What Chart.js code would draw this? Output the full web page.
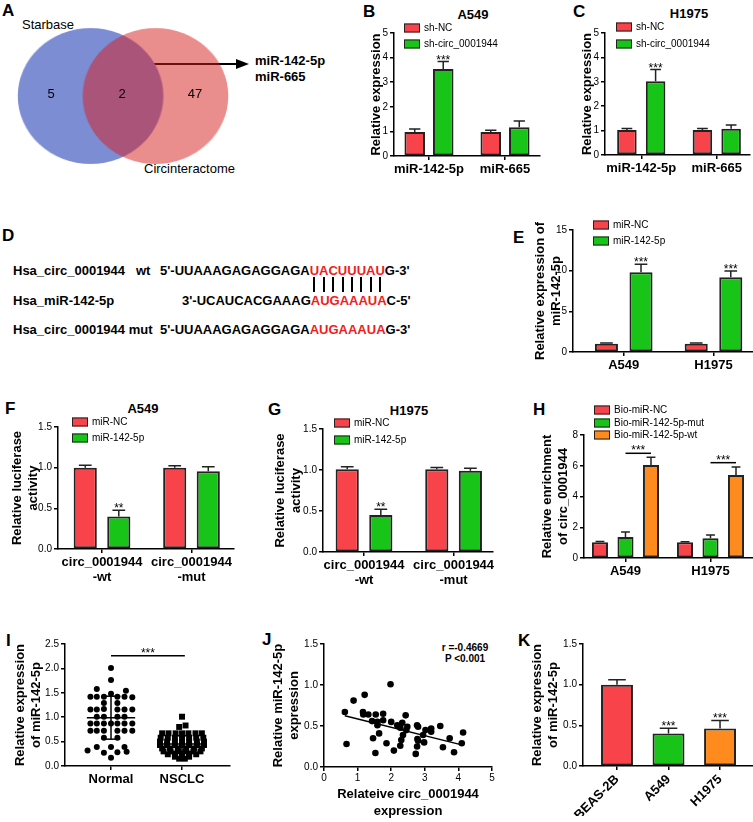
<!DOCTYPE html>
<html>
<head>
<meta charset="utf-8">
<script src="https://cdn.jsdelivr.net/npm/chart.js@4.4.1/dist/chart.umd.min.js"></script>
<style>
  body { margin: 0; background: #fff; }
  #fig { position: relative; width: 753px; height: 822px; overflow: hidden; background: #fff;
         font-family: "Liberation Sans", Arial, sans-serif; color: #000; }
  #fig canvas { position: absolute; left: 0; top: 0; }
  .t { position: absolute; white-space: nowrap; line-height: 1; transform: translateY(-50%); }
  .ct { transform: translate(-50%, -50%); }
  .lt { font-weight: bold; font-size: 17px; }
  .hd { font-weight: bold; font-size: 13px; }
  .lg { font-size: 10px; }
  .vn { font-size: 13px; }
  .sw { position: absolute; width: 16px; height: 9px; border: 1.5px solid #222; box-sizing: border-box; transform: translateY(-50%); }
  .red { color: #f31c1c; }
  .pair { position: absolute; top: 277px; height: 15px; width: 2px; background: #000; }
</style>
</head>
<body>
<div id="fig">
  <div class="t lt" style="left:2px;top:10px">A</div>
  <div class="t lt" style="left:363px;top:11px">B</div>
  <div class="t lt" style="left:573px;top:11px">C</div>
  <div class="t lt" style="left:2px;top:235px">D</div>
  <div class="t lt" style="left:513px;top:237px">E</div>
  <div class="t lt" style="left:5px;top:408px">F</div>
  <div class="t lt" style="left:268px;top:409px">G</div>
  <div class="t lt" style="left:533px;top:409px">H</div>
  <div class="t lt" style="left:6px;top:640px">I</div>
  <div class="t lt" style="left:262px;top:639px">J</div>
  <div class="t lt" style="left:518px;top:640px">K</div>

  <div class="t hd ct" style="left:473px;top:14px">A549</div>
  <div class="t hd ct" style="left:689px;top:13px">H1975</div>
  <div class="t hd ct" style="left:143px;top:408px">A549</div>
  <div class="t hd ct" style="left:409px;top:410px">H1975</div>

  <!-- A -->
  <div class="t vn" style="left:22px;top:24px">Starbase</div>
  <div class="t vn" style="left:144px;top:168px">Circinteractome</div>
  <div class="t hd" style="left:255px;top:60px">miR-142-5p</div>
  <div class="t hd" style="left:255px;top:76px">miR-665</div>
  <div style="position:absolute;left:126px;top:63px;width:112px;height:2px;background:#000"></div>
  <div style="position:absolute;left:236px;top:58.5px;width:0;height:0;border-left:13px solid #000;border-top:5.5px solid transparent;border-bottom:5.5px solid transparent"></div>

  <!-- D -->
  <div class="t hd" style="left:13px;top:270px">Hsa_circ_0001944</div>
  <div class="t hd" style="left:136px;top:270px">wt</div>
  <div class="t hd" style="left:160px;top:270px">5'-UUAAAGAGAGGAGA<span id="wtRed" class="red">UACUUUAU</span>G-3'</div>
  <div class="t hd" style="left:13px;top:300px">Hsa_miR-142-5p</div>
  <div class="t hd" style="left:182px;top:300px">3'-UCAUCACGAAAG<span class="red">AUGAAAUA</span>C-5'</div>
  <div class="t hd" style="left:13px;top:329px">Hsa_circ_0001944 mut</div>
  <div class="t hd" style="left:160px;top:329px">5'-UUAAAGAGAGGAGA<span class="red">AUGAAAUA</span>G-3'</div>

  <!-- J -->
  <div class="t hd ct" style="left:465px;top:648px;font-size:10px">r =-0.4669</div>
  <div class="t hd ct" style="left:465px;top:659px;font-size:10px">P &lt;0.001</div>
</div>

<script>
// ---- data ----
const vennSets = ['Starbase', 'Circinteractome'];
const vennCounts = [5, 2, 47];
const vennX = [-0.3, 0.3];

const bcCats = ['miR-142-5p', 'miR-665'];
const bShNC = [0.98, 0.98], bShNCErr = [0.12, 0.07];
const bShCirc = [3.54, 1.17], bShCircErr = [0.30, 0.25];
const cShNC = [1.02, 1.02], cShNCErr = [0.07, 0.07];
const cShCirc = [3.02, 1.08], cShCircErr = [0.48, 0.15];
const bcStars = ['***', ''];

const eCats = ['A549', 'H1975'];
const eNC = [1.02, 1.02], eNCErr = [0.1, 0.08];
const eMiR = [9.8, 9.2], eMiRErr = [1.0, 0.77];
const eStars = ['***', '***'];

const fgCats = [['circ_0001944', '-wt'], ['circ_0001944', '-mut']];
const fNC = [1.0, 1.0], fNCErr = [0.03, 0.025];
const fMiR = [0.40, 0.955], fMiRErr = [0.075, 0.055];
const gNC = [1.01, 1.01], gNCErr = [0.03, 0.02];
const gMiR = [0.45, 0.99], gMiRErr = [0.07, 0.03];
const fgStars = ['**', ''];

const hCats = ['A549', 'H1975'];
const hNC = [1.02, 1.02], hNCErr = [0.06, 0.04];
const hMut = [1.36, 1.28], hMutErr = [0.33, 0.21];
const hWt = [6.05, 5.4], hWtErr = [0.5, 0.52];
const hBracket = [6.81, 6.2];

const iCats = ['Normal', 'NSCLC'];
const iNormX = [1.00, 1.00, 0.80, 1.21, 1.00,
  0.71, 0.80, 0.90, 1.09, 1.19, 1.30,
  0.90, 1.09,
  0.71, 0.80, 0.90, 1.09, 1.19, 1.30,
  0.80, 0.90, 1.09, 1.19,
  0.71, 0.80, 0.90, 1.00, 1.09, 1.19, 1.30,
  0.71, 0.80, 0.90, 1.09, 1.19, 1.30,
  0.90, 1.09,
  0.80, 1.00, 1.19,
  0.67, 0.90, 1.09, 1.22,
  1.00];
const iNormY = [2.01, 1.76, 1.58, 1.54, 1.48,
  1.42, 1.42, 1.42, 1.42, 1.42, 1.41,
  1.29, 1.29,
  1.16, 1.16, 1.17, 1.16, 1.16, 1.16,
  1.01, 1.01, 1.01, 1.01,
  0.87, 0.87, 0.87, 0.87, 0.87, 0.87, 0.87,
  0.72, 0.72, 0.72, 0.72, 0.72, 0.72,
  0.58, 0.58,
  0.39, 0.39, 0.39,
  0.32, 0.27, 0.28, 0.29,
  0.17];
const iTumX = [2.00, 1.96, 2.05,
  1.72, 1.81, 1.91, 2.00, 2.09, 2.19, 2.28,
  1.70, 1.80, 1.90, 2.00, 2.10, 2.20, 2.30,
  1.69, 1.79, 1.90, 2.00, 2.10, 2.21, 2.31,
  1.69, 1.79, 1.90, 2.00, 2.10, 2.21, 2.31,
  1.72, 1.83, 1.94, 2.06, 2.17, 2.28,
  1.74, 1.84, 1.95, 2.05, 2.16, 2.26,
  1.80, 1.90, 2.00, 2.10, 2.20,
  1.90, 2.00, 2.10,
  1.96, 2.04];
const iTumY = [1.01, 0.80, 0.83,
  0.67, 0.67, 0.67, 0.67, 0.67, 0.67, 0.67,
  0.58, 0.58, 0.58, 0.58, 0.58, 0.58, 0.58,
  0.50, 0.50, 0.50, 0.50, 0.50, 0.50, 0.50,
  0.43, 0.43, 0.43, 0.43, 0.43, 0.43, 0.43,
  0.36, 0.36, 0.36, 0.36, 0.36, 0.36,
  0.30, 0.30, 0.30, 0.30, 0.30, 0.30,
  0.24, 0.24, 0.24, 0.24, 0.24,
  0.19, 0.19, 0.19,
  0.15, 0.15];
const iMean = [0.99, 0.45];
const iSdLow = [0.55, 0.30], iSdHigh = [1.43, 0.62];
const iSig = { x1: 1, x2: 2.04, y: 2.26, text: '***' };

const jX = [0.62, 0.67, 0.88, 1.21, 1.16, 1.17, 1.32, 1.46, 1.43, 1.54, 1.59, 1.59, 1.64, 1.53, 1.76,
  1.76, 1.86, 1.98, 2.00, 2.08, 2.18, 2.27, 2.33, 2.30, 2.27, 2.35, 2.43, 2.48, 2.45, 2.77,
  2.80, 2.78, 2.80, 2.77, 2.73, 2.95, 3.02, 2.98, 3.19, 3.19, 3.46, 3.54, 3.74, 3.87, 4.10, 4.14];
const jY = [0.67, 0.28, 0.81, 0.88, 0.67, 0.64, 0.64, 0.35, 0.56, 0.64, 0.55, 0.51, 0.41, 0.17, 0.65,
  0.57, 0.29, 1.01, 0.55, 0.20, 0.51, 0.48, 0.54, 0.33, 0.26, 0.39, 0.63, 0.49, 0.45, 0.51,
  0.49, 0.34, 0.32, 0.25, 0.16, 0.39, 0.45, 0.30, 0.47, 0.43, 0.50, 0.24, 0.35, 0.18, 0.29, 0.42];
const jFitX = [0.62, 4.1], jFitY = [0.625, 0.27];

const kCats = ['BEAS-2B', 'A549', 'H1975'];
const kVals = [1.0, 0.40, 0.46], kErr = [0.06, 0.065, 0.1];
const kStars = ['', '***', '***'];

// ---- setup ----
const FONT = '"Liberation Sans", Arial, sans-serif';
Chart.defaults.font.family = FONT;
Chart.defaults.color = '#000';
const RED = '#f8434a', GREEN = '#17c417', ORANGE = '#ff8b1e', EDGE = '#222';
const PW = 753, PH = 822, TLH = 13 * 1.3;
const FIG = document.getElementById('fig');

function newCanvas() {
  const c = document.createElement('canvas');
  c.width = PW; c.height = PH;
  FIG.appendChild(c);
  return c;
}
function txt(s, x, y, cls) {
  const d = document.createElement('div');
  d.className = 't ' + cls;
  d.style.left = x + 'px'; d.style.top = y + 'px';
  d.textContent = s;
  FIG.appendChild(d);
}
function legend(x, ys, labels, colors) {
  labels.forEach((lab, i) => {
    const sw = document.createElement('div');
    sw.className = 'sw';
    sw.style.left = x + 'px'; sw.style.top = ys[i] + 'px'; sw.style.background = colors[i];
    FIG.appendChild(sw);
    txt(lab, x + 20, ys[i], 'lg');
  });
}

const errorBars = {
  id: 'errorBars',
  afterDatasetsDraw(chart) {
    const ctx = chart.ctx, ys = chart.scales.y;
    chart.data.datasets.forEach((ds, i) => {
      if (!ds.errors) return;
      chart.getDatasetMeta(i).data.forEach((bar, j) => {
        const top = ys.getPixelForValue(ds.data[j].y + ds.errors[j]);
        const cap = bar.width * 0.55;
        ctx.save();
        ctx.strokeStyle = EDGE; ctx.lineWidth = 1.5;
        ctx.beginPath();
        ctx.moveTo(bar.x, bar.y); ctx.lineTo(bar.x, top);
        ctx.moveTo(bar.x - cap / 2, top); ctx.lineTo(bar.x + cap / 2, top);
        ctx.stroke();
        const s = ds.stars && ds.stars[j];
        if (s) {
          ctx.fillStyle = '#000'; ctx.font = '12px ' + FONT; ctx.textAlign = 'center';
          ctx.fillText(s, bar.x, top + 2);
        }
        ctx.restore();
      });
    });
  }
};
const sigLines = {
  id: 'sigLines',
  afterDatasetsDraw(chart, args, opts) {
    if (!opts.items) return;
    const ctx = chart.ctx, xs = chart.scales.x, ys = chart.scales.y;
    opts.items.forEach(it => {
      let x1, x2;
      if (it.bar != null) {
        x1 = chart.getDatasetMeta(it.from).data[it.bar].x;
        x2 = chart.getDatasetMeta(it.to).data[it.bar].x;
      } else {
        x1 = xs.getPixelForValue(it.x1); x2 = xs.getPixelForValue(it.x2);
      }
      const y = ys.getPixelForValue(it.y);
      ctx.save();
      ctx.strokeStyle = '#000'; ctx.lineWidth = 1.5;
      ctx.beginPath(); ctx.moveTo(x1, y); ctx.lineTo(x2, y); ctx.stroke();
      ctx.fillStyle = '#000'; ctx.font = '12px ' + FONT; ctx.textAlign = 'center';
      ctx.fillText(it.text, (x1 + x2) / 2, y + 1);
      ctx.restore();
    });
  }
};
Chart.register(errorBars, sigLines);

const tickGrid = () => ({ drawOnChartArea: false, drawTicks: true, tickLength: 4, color: '#000', lineWidth: 1.5, offset: false });
const axisBorder = () => ({ color: '#000', width: 1.5 });
const titleFont = { size: 13, weight: 'bold', lineHeight: 1.3 };

function yScale(a, min, max, step, dec, title, titleX) {
  const w = a.l - titleX + TLH / 2;
  return {
    min, max, bounds: 'data',
    ticks: { stepSize: step, padding: 2, font: { size: 10 }, callback: v => v.toFixed(dec) },
    grid: tickGrid(), border: axisBorder(),
    title: { display: true, text: title, padding: 0, font: titleFont },
    afterFit: s => { s.width = w; }
  };
}
function catScale(cats, min, max, h, rot) {
  return {
    type: 'linear', min, max, bounds: 'data', offset: false,
    afterBuildTicks: s => { s.ticks = cats.map((c, i) => ({ value: i + 1 })); },
    ticks: { autoSkip: false, padding: 2, minRotation: rot || 0, maxRotation: rot || 0,
             font: { size: 13, weight: 'bold', lineHeight: 1.15 }, callback: (v, i) => cats[i] },
    grid: tickGrid(), border: axisBorder(),
    afterFit: s => { s.height = h; }
  };
}
function baseOpts(a, titleX, xH, x, y, plug) {
  return {
    responsive: false, animation: false, devicePixelRatio: 1, events: [],
    layout: { autoPadding: false, padding: { left: titleX - TLH / 2, top: a.t, right: PW - a.r, bottom: PH - a.b - xH } },
    plugins: Object.assign({ legend: { display: false }, tooltip: { enabled: false } }, plug || {}),
    scales: { x, y }
  };
}
function barChart(p) {
  const datasets = p.series.map(s => ({
    data: s.values.map((v, i) => ({ x: i + 1, y: v })),
    backgroundColor: s.color, borderColor: EDGE, borderWidth: 2, borderSkipped: false,
    categoryPercentage: p.cp, barPercentage: p.bp, errors: s.errors, stars: s.stars
  }));
  new Chart(newCanvas(), {
    type: 'bar',
    data: { datasets },
    options: baseOpts(p.area, p.titleX, p.xH,
      catScale(p.cats, p.xmin, p.xmax, p.xH, p.rot),
      yScale(p.area, p.ymin, p.ymax, p.step, p.dec, p.title, p.titleX), p.plugins)
  });
}
function lineSet(pts) {
  return { data: pts, showLine: true, pointRadius: 0, borderColor: '#000', borderWidth: 1.5, fill: false };
}

// ---- A: venn ----
const vennCanvas = newCanvas();
vennCanvas.style.transformOrigin = '123px 96px';
vennCanvas.style.transform = 'scale(1.04, 0.97)';
const vennColors = ['rgb(125,141,212)', 'rgba(214,28,28,0.5)'];
new Chart(vennCanvas, {
  type: 'bubble',
  data: { datasets: vennSets.map((n, i) => ({
    label: n, data: [{ x: vennX[i], y: 0, r: 70 }], backgroundColor: vennColors[i],
    borderWidth: 0, order: 1 - i, clip: false })) },
  options: {
    responsive: false, animation: false, devicePixelRatio: 1, events: [],
    layout: { autoPadding: false, padding: { left: 19, top: 27, right: PW - 227, bottom: PH - 165 } },
    plugins: { legend: { display: false }, tooltip: { enabled: false } },
    scales: { x: { display: false, min: -1, max: 1 }, y: { display: false, min: -1, max: 1 } }
  }
});
[51, 122, 195].forEach((x, i) => txt(String(vennCounts[i]), x, 93, 'vn ct'));

// ---- B, C ----
barChart({ area: { l: 394, t: 33, r: 540, b: 156 }, xmin: 0.54, xmax: 2.46, cats: bcCats,
  ymin: 0, ymax: 5, step: 1, dec: 0, title: 'Relative expression', titleX: 376, xH: 30, cp: 0.75, bp: 0.72,
  series: [{ values: bShNC, errors: bShNCErr, color: RED },
           { values: bShCirc, errors: bShCircErr, color: GREEN, stars: bcStars }] });
legend(404, [28, 44], ['sh-NC', 'sh-circ_0001944'], [RED, GREEN]);

barChart({ area: { l: 605, t: 33, r: 750, b: 155 }, xmin: 0.52, xmax: 2.44, cats: bcCats,
  ymin: 0, ymax: 5, step: 1, dec: 0, title: 'Relative expression', titleX: 587, xH: 30, cp: 0.76, bp: 0.68,
  series: [{ values: cShNC, errors: cShNCErr, color: RED },
           { values: cShCirc, errors: cShCircErr, color: GREEN, stars: bcStars }] });
legend(616, [27, 44], ['sh-NC', 'sh-circ_0001944'], [RED, GREEN]);

// ---- E ----
barChart({ area: { l: 573, t: 230, r: 753, b: 352 }, xmin: 0.435, xmax: 2.44, cats: eCats,
  ymin: 0, ymax: 15, step: 5, dec: 0, title: ['Relative expression of', 'miR-142-5p'], titleX: 540, xH: 30,
  cp: 0.77, bp: 0.667,
  series: [{ values: eNC, errors: eNCErr, color: RED },
           { values: eMiR, errors: eMiRErr, color: GREEN, stars: eStars }] });
legend(593, [225, 241], ['miR-NC', 'miR-142-5p'], [RED, GREEN]);

// ---- F, G ----
barChart({ area: { l: 58, t: 427, r: 234, b: 549 }, xmin: 0.508, xmax: 2.475, cats: fgCats,
  ymin: 0, ymax: 1.5, step: 0.5, dec: 1, title: ['Relative luciferase', 'activity'], titleX: 17, xH: 40,
  cp: 0.75, bp: 0.69,
  series: [{ values: fNC, errors: fNCErr, color: RED },
           { values: fMiR, errors: fMiRErr, color: GREEN, stars: fgStars }] });
legend(72, [422, 438], ['miR-NC', 'miR-142-5p'], [RED, GREEN]);

barChart({ area: { l: 323, t: 429, r: 493, b: 552 }, xmin: 0.542, xmax: 2.44, cats: fgCats,
  ymin: 0, ymax: 1.5, step: 0.5, dec: 1, title: ['Relative luciferase', 'activity'], titleX: 280, xH: 40,
  cp: 0.75, bp: 0.69,
  series: [{ values: gNC, errors: gNCErr, color: RED },
           { values: gMiR, errors: gMiRErr, color: GREEN, stars: fgStars }] });
legend(334, [423, 440], ['miR-NC', 'miR-142-5p'], [RED, GREEN]);

// ---- H ----
barChart({ area: { l: 584, t: 435, r: 753, b: 558 }, xmin: 0.512, xmax: 2.5, cats: hCats,
  ymin: 0, ymax: 8, step: 2, dec: 0, title: ['Relative enrichment', 'of circ_0001944'], titleX: 547, xH: 30,
  cp: 0.9, bp: 0.63,
  series: [{ values: hNC, errors: hNCErr, color: RED },
           { values: hMut, errors: hMutErr, color: GREEN },
           { values: hWt, errors: hWtErr, color: ORANGE }],
  plugins: { sigLines: { items: hBracket.map((y, i) => ({ bar: i, from: 1, to: 2, y, text: '***' })) } } });
legend(594, [410, 423, 435], ['Bio-miR-NC', 'Bio-miR-142-5p-mut', 'Bio-miR-142-5p-wt'], [RED, GREEN, ORANGE]);

// ---- I ----
(function () {
  const a = { l: 65, t: 644, r: 230, b: 766 };
  const sets = [];
  iMean.forEach((m, i) => {
    const c = i + 1;
    sets.push(lineSet([{ x: c - 0.34, y: m }, { x: c + 0.34, y: m }]));
    sets.push(lineSet([{ x: c, y: iSdLow[i] }, { x: c, y: iSdHigh[i] }]));
    sets.push(lineSet([{ x: c - 0.13, y: iSdLow[i] }, { x: c + 0.13, y: iSdLow[i] }]));
    sets.push(lineSet([{ x: c - 0.13, y: iSdHigh[i] }, { x: c + 0.13, y: iSdHigh[i] }]));
  });
  sets.push({ data: iNormX.map((x, i) => ({ x, y: iNormY[i] })), pointStyle: 'circle', pointRadius: 3,
              backgroundColor: '#000', borderWidth: 0 });
  sets.push({ data: iTumX.map((x, i) => ({ x, y: iTumY[i] })), pointStyle: 'rect', pointRadius: 4.2,
              backgroundColor: '#000', borderWidth: 0 });
  new Chart(newCanvas(), {
    type: 'scatter',
    data: { datasets: sets },
    options: baseOpts(a, 20, 30, catScale(iCats, 0.352, 2.676, 30),
      yScale(a, 0, 2.5, 0.5, 1, ['Relative expression', 'of miR-142-5p'], 20),
      { sigLines: { items: [iSig] } })
  });
})();

// ---- J ----
(function () {
  const a = { l: 324, t: 644, r: 492, b: 767 };
  const xH = 811 + TLH / 2 - a.b;
  const x = {
    type: 'linear', min: 0, max: 5, bounds: 'data', offset: false,
    ticks: { stepSize: 1, padding: 1, font: { size: 10 }, maxRotation: 0 },
    grid: tickGrid(), border: axisBorder(),
    title: { display: true, text: ['Relateive circ_0001944', 'expression'], padding: 0, font: titleFont },
    afterFit: s => { s.height = xH; }
  };
  new Chart(newCanvas(), {
    type: 'scatter',
    data: { datasets: [
      lineSet(jFitX.map((v, i) => ({ x: v, y: jFitY[i] }))),
      { data: jX.map((v, i) => ({ x: v, y: jY[i] })), pointRadius: 3.3, backgroundColor: '#000', borderWidth: 0 }
    ] },
    options: baseOpts(a, 278, xH, x, yScale(a, 0, 1.5, 0.5, 1, ['Relative miR-142-5p', 'expression'], 278))
  });
})();

// ---- K ----
barChart({ area: { l: 583, t: 644, r: 753, b: 766 }, xmin: 0.34, xmax: 3.64, cats: kCats,
  ymin: 0, ymax: 1.5, step: 0.5, dec: 1, title: ['Relative expression', 'of miR-142-5p'], titleX: 537, xH: 50,
  cp: 1, bp: 0.62, rot: 45,
  series: [{ values: kVals, errors: kErr, color: [RED, GREEN, ORANGE], stars: kStars }] });

// ---- D: pairing lines ----
(function () {
  const r = document.getElementById('wtRed').getBoundingClientRect();
  const f = FIG.getBoundingClientRect();
  for (let k = 0; k < 8; k++) {
    const d = document.createElement('div');
    d.className = 'pair';
    d.style.left = (r.left - f.left + (k + 0.5) * r.width / 8 - 1) + 'px';
    FIG.appendChild(d);
  }
})();
</script>
</body>
</html>
